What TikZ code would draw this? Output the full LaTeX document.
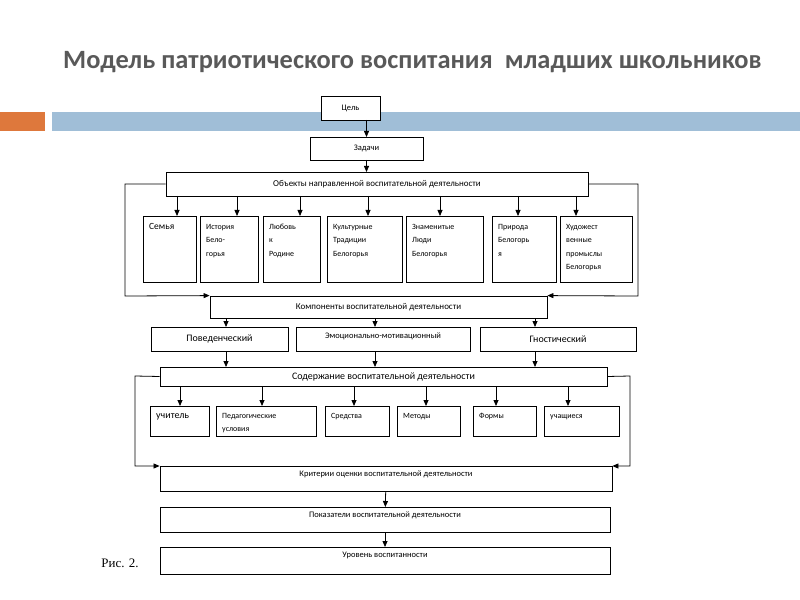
\documentclass[tikz,border=0pt]{standalone}
\usepackage{fontspec}
\setmainfont{Carlito}
\newfontfamily\serifrm{Liberation Serif}
\usetikzlibrary{arrows.meta}
\definecolor{titlegray}{RGB}{89,89,89}
\definecolor{barorange}{RGB}{222,120,60}
\definecolor{barblue}{RGB}{160,190,215}
\tikzset{%
  % box styles
            base/.style = {rectangle, draw=black, thick, inner sep=2pt, font=\fontsize{8.5}{10}\selectfont},
 }
\begin{document}
\begin{tikzpicture}[x=1bp, y=-1bp, >={Triangle[length=6bp,width=5bp]}]
  \useasboundingbox (0,0) rectangle (800,600);
  % title and bars
  \node[font=\bfseries\fontsize{26.5}{28}\selectfont, text=titlegray, anchor=west, inner sep=0pt] (title) at (63,62) {Модель патриотического воспитания\ \ младших школьников};
  \fill[barorange] (0,112) rectangle (45,131);
  \fill[barblue] (52,112) rectangle (800,131);
  \node[font=\serifrm\fontsize{13}{15}\selectfont] (fig) at (120,563) {Рис. 2.};

  % top boxes
  \node (goal) [base, minimum width=59bp, minimum height=24bp, fill=white] at (350.5,108) {Цель};
  \node (tasks) [base, minimum width=113bp, minimum height=23bp] at (366.5,148.5) {Задачи};
  \node (objects) [base, minimum width=422bp, minimum height=24bp, font=\fontsize{9}{11}\selectfont] at (377,184) {Объекты направленной воспитательной деятельности};
  \draw[->, thick] (366.5,120) -- (366.5,137);
  \draw[->, thick] (366.5,160) -- (366.5,172);

  % objects
  \foreach \nm/\l/\r/\t in {fam/143/196/{\fontsize{9.5}{11}\selectfont Семья}, hist/200/258/{История\\Бело-\\горья}, love/263/320/{Любовь\\к\\Родине},
      cult/327/402/{Культурные\\Традиции\\Белогорья}, fame/406/483/{Знаменитые\\Люди\\Белогорья},
      nat/492/556/{Природа\\Белогорь\\я}, art/560/632/{Художест\\венные\\промыслы\\Белогорья}} {
    \draw[thick] (\l,216) rectangle (\r,282);
    \node[anchor=north west, align=left, inner sep=0pt, font=\fontsize{8}{13.5}\selectfont] (\nm) at (\l+6,221) {\rule{0pt}{8bp}\t};
  }
  \foreach \x in {177,237,300,368,440,518,576}
    \draw[->, thick] (\x,196) -- (\x,216);

  % components
  \node (comp) [base, minimum width=337bp, minimum height=22bp, font=\fontsize{9}{11}\selectfont] at (378.5,307) {Компоненты воспитательной деятельности};
  \draw[->, thick] (objects.west) -- (125,184) -- (125,296) -- (comp.north west);
  \draw[->, thick] (objects.east) -- (638,184) -- (638,296) -- (comp.north east);
  \node (behav) [base, minimum width=137bp, minimum height=24bp, font=\fontsize{10}{12}\selectfont] at (219.5,339) {Поведенческий};
  \node (emot) [base, minimum width=174bp, minimum height=24bp, anchor=north, text depth=8bp] at (383,327) {Эмоционально-мотивационный};
  \node (gnost) [base, minimum width=156bp, minimum height=24bp, font=\fontsize{10}{12}\selectfont] at (558,339) {Гностический};
  \draw[->, thick] (226,318) -- (226,327);
  \draw[->, thick] (375,318) -- (375,327);
  \draw[->, thick] (535,318) -- (535,327);

  % content
  \node (content) [base, minimum width=447bp, minimum height=19bp, font=\fontsize{10}{12}\selectfont] at (383.5,376.5) {Содержание воспитательной деятельности};
  \draw[->, thick] (226,351) -- (226,367);
  \draw[->, thick] (375,351) -- (375,367);
  \draw[->, thick] (535,351) -- (535,367);
  \foreach \nm/\l/\r/\t in {teach/150/209/{\fontsize{10}{12}\selectfont учитель}, ped/216/316/{Педагогические\\условия},
      means/325/389/{Средства}, meth/397/460/{Методы}, form/473/536/{Формы}, pup/544/619/{учащиеся}} {
    \draw[thick] (\l,406) rectangle (\r,436);
    \node[anchor=north west, align=left, inner sep=0pt, font=\fontsize{8}{13}\selectfont] (\nm) at (\l+6,410) {\rule{0pt}{8bp}\t};
  }
  \foreach \x in {180,262,354,426,496,568}
    \draw[->, thick] (\x,386) -- (\x,406);

  % lower chain
  \node (crit) [base, minimum width=452bp, minimum height=25bp, anchor=north, text depth=10bp] at (386,466) {Критерии оценки воспитательной деятельности};
  \draw[->, thick] (content.west) -- (135,376) -- (135,466) -- (crit.north west);
  \draw[->, thick] (content.east) -- (630,376) -- (630,466) -- (crit.north east);
  \node (ind) [base, minimum width=450bp, minimum height=25bp, anchor=north, text depth=10bp] at (385,507) {Показатели воспитательной деятельности};
  \node (level) [base, minimum width=450bp, minimum height=27bp, anchor=north, text depth=12bp] at (385,547) {Уровень воспитанности};
  \draw[->, thick] (crit) -- (ind);
  \draw[->, thick] (ind) -- (level);
\end{tikzpicture}
\end{document}
